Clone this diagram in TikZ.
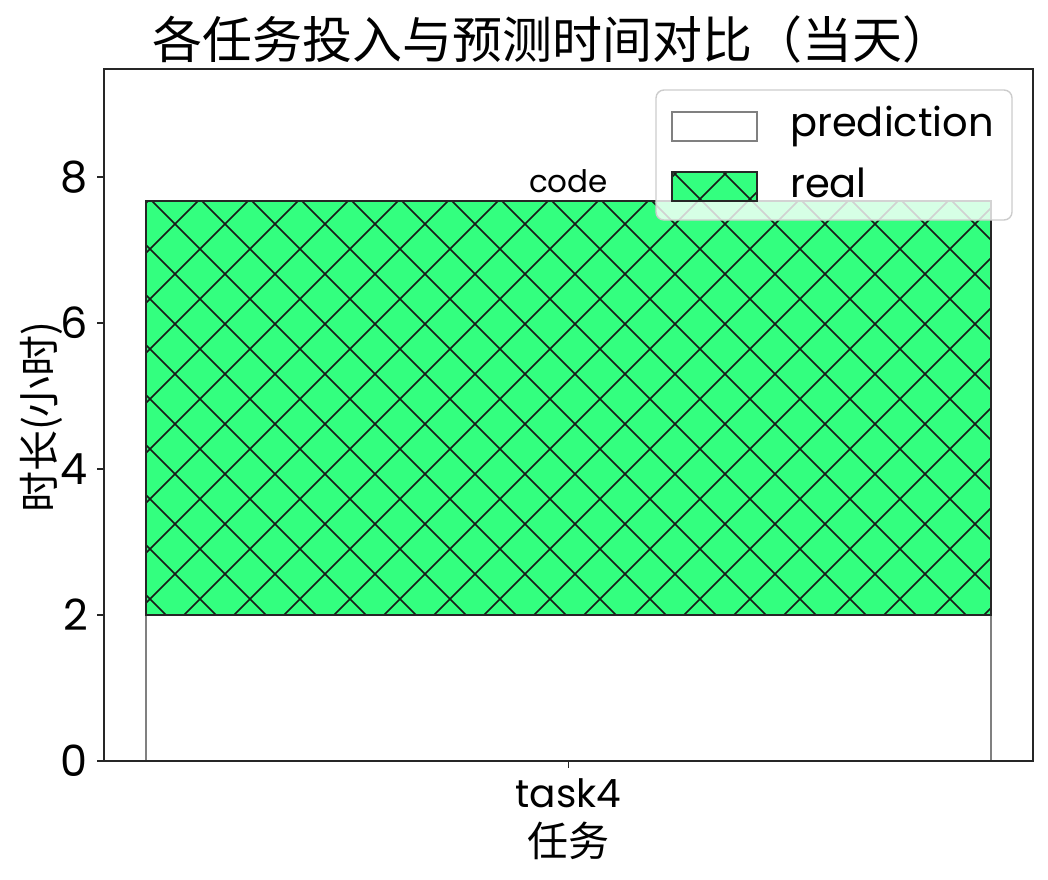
\documentclass[tikz,border=0pt]{standalone}
\usepackage{fontspec}
\setmainfont{Poppins}
\newfontfamily\cjk{Noto Sans CJK SC}
\usetikzlibrary{calc}

\definecolor{realgreen}{RGB}{51,255,127}
\definecolor{spinegray}{RGB}{38,38,38}
\definecolor{predgray}{RGB}{128,128,128}
\definecolor{legendgray}{RGB}{204,204,204}

% cross hatch inside the box (#1,#2)--(#3,#4)
\newcommand{\crosshatch}[4]{%
  \begin{scope}
    \clip (#1,#2) rectangle (#3,#4);
    \foreach \c in {-549,-499,...,851} \draw[hatchline] ({#2+\c},#2) -- ({#4+\c},#4);
    \foreach \d in {199,249,...,1699} \draw[hatchline] ({\d-#2},#2) -- ({\d-#4},#4);
  \end{scope}}

\begin{document}
\begin{tikzpicture}[x=1pt,y=-1pt,
    spine/.style={draw=spinegray,line width=1.6pt},
    tickmark/.style={draw=spinegray,line width=1.6pt},
    ticklabel/.style={inner sep=0pt,font=\fontsize{43}{43}\selectfont},
    cjklabel/.style={inner sep=0pt,font=\cjk\fontsize{41}{41}\selectfont},
    hatchline/.style={draw=black!90,line width=1.5pt},
    predbar/.style={draw=predgray,fill=white,line width=1.5pt},
    realbar/.style={draw=spinegray,line width=1.6pt},
    legendtext/.style={inner sep=0pt,anchor=base west,font=\fontsize{40}{40}\selectfont}]
    \useasboundingbox (0,0) rectangle (1048,879);

    % Bars
    \filldraw[predbar] (146,761) rectangle (991,615);
    \fill[realgreen] (146,615) rectangle (991,201);
    \crosshatch{146}{201}{991}{615}
    \draw[realbar] (146,615) rectangle (991,201);

    % Axes
    \draw[spine] (104,69) rectangle (1033,761);
    \foreach \v in {0,2,4,6,8}
    {
        \draw[tickmark] (97,{761-73*\v}) -- (104,{761-73*\v});
        \node[ticklabel,anchor=east] (ytick\v) at (88,{761-73*\v}) {\v};
    }
    \draw[tickmark] (568.5,761) -- (568.5,768);

    % Text Node
    \node[ticklabel,anchor=base,font=\fontsize{39}{39}\selectfont] (xtick) at (568.5,807) {task4};
    % Text Node
    \node[cjklabel,anchor=base] (xlabel) at (568.5,856) {任务};
    % Text Node
    \node[cjklabel,rotate=90] (ylabel) at (41,417) {时长(小时)};
    % Text Node
    \node[inner sep=0pt,anchor=base,font=\cjk\fontsize{50}{50}\selectfont] (title) at (552,58) {各任务投入与预测时间对比（当天）};
    % Text Node
    \node[inner sep=0pt,anchor=base,font=\fontsize{31}{31}\selectfont] (barlabel) at (568.5,192) {code};

    % Legend
    \filldraw[draw=legendgray,fill=white,fill opacity=0.8,line width=1.4pt,rounded corners=8pt] (656,90) rectangle (1012,220);
    \filldraw[predbar] (672,112) rectangle (757,141);
    \fill[realgreen] (672,172) rectangle (757,201);
    \crosshatch{672}{172}{757}{201}
    \draw[realbar] (672,172) rectangle (757,201);
    \node[legendtext] (predtext) at (790,136) {prediction};
    \node[legendtext] (realtext) at (790,197) {real};
\end{tikzpicture}
\end{document}
